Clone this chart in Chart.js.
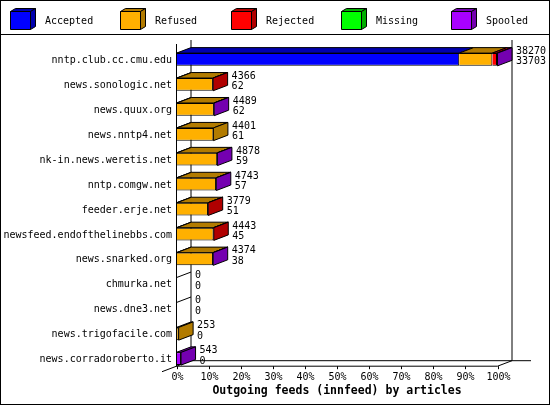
<!DOCTYPE html>
<html>
<head>
<meta charset="utf-8">
<title>Outgoing feeds (innfeed) by articles</title>
<script src="https://cdn.jsdelivr.net/npm/chart.js@4.4.1/dist/chart.umd.min.js"></script>
<style>
    html, body { margin: 0; padding: 0; background: #fff; }
    canvas { display: block; }
</style>
</head>
<body>
<canvas id="graficoFeeds" width="550" height="405"></canvas>
<script>
// datos
const hosts = [
    'nntp.club.cc.cmu.edu', 'news.sonologic.net', 'news.quux.org', 'news.nntp4.net',
    'nk-in.news.weretis.net', 'nntp.comgw.net', 'feeder.erje.net', 'newsfeed.endofthelinebbs.com',
    'news.snarked.org', 'chmurka.net', 'news.dne3.net', 'news.trigofacile.com', 'news.corradoroberto.it'
];
const offered  = [38270, 4366, 4489, 4401, 4878, 4743, 3779, 4443, 4374, 0, 0, 253, 543];
const accepted = [33703, 62, 62, 61, 59, 57, 51, 45, 38, 0, 0, 0, 0];
const refused  = [3950, 4280, 4400, 4340, 4790, 4660, 3700, 4370, 4310, 0, 0, 253, 0];
const rejected = [560, 24, 0, 0, 0, 0, 28, 28, 0, 0, 0, 0, 0];
const missing  = [0, 0, 0, 0, 0, 0, 0, 0, 0, 0, 0, 0, 0];
const spooled  = [57, 0, 27, 0, 29, 26, 0, 0, 26, 0, 0, 0, 543];
const percentTicks = [0, 10, 20, 30, 40, 50, 60, 70, 80, 90, 100];

const seriesNames = ['Accepted', 'Refused', 'Rejected', 'Missing', 'Spooled'];
const frontColors = ['#0000ff', '#ffb000', '#ff0000', '#00ff00', '#a800ff'];
const darkColors  = ['#0000ae', '#b27b00', '#b00000', '#00ae00', '#7400b0'];

const FONT = '10px "DejaVu Sans Mono", monospace';
const DX = 14.5, DY = 5.5;

const maxOffered = Math.max(...offered);
const pct = arr => arr.map(v => v / maxOffered * 100);

function cara(ctx, pts, fill) {
    ctx.beginPath();
    ctx.moveTo(pts[0][0], pts[0][1]);
    for (let k = 1; k < pts.length; k++) ctx.lineTo(pts[k][0], pts[k][1]);
    ctx.closePath();
    ctx.fillStyle = fill;
    ctx.fill();
    ctx.stroke();
}

function linea(ctx, x0, y0, x1, y1) {
    ctx.beginPath();
    ctx.moveTo(x0, y0);
    ctx.lineTo(x1, y1);
    ctx.stroke();
}

const marco3d = {
    id: 'marco3d',
    beforeDraw(chart) {
        const ctx = chart.ctx;
        const { left, right, bottom } = chart.chartArea;
        const floorY = bottom - 5;
        ctx.save();
        ctx.fillStyle = '#fff';
        ctx.fillRect(0, 0, chart.width, chart.height);
        ctx.strokeStyle = '#000';
        ctx.lineWidth = 1;
        ctx.strokeRect(0.5, 0.5, chart.width - 1, chart.height - 1);
        linea(ctx, 0, 34.5, chart.width, 34.5);

        // leyenda con cubos
        ctx.font = FONT;
        ctx.textBaseline = 'alphabetic';
        ctx.textAlign = 'left';
        seriesNames.forEach((name, i) => {
            const bx = 10.5 + Math.round(110.3 * i);
            const top = 11.5, h = 18, w = 20, dx = 5, dy = 3;
            cara(ctx, [[bx, top], [bx + dx, top - dy], [bx + w + dx, top - dy], [bx + w, top]], darkColors[i]);
            cara(ctx, [[bx + w, top], [bx + w + dx, top - dy], [bx + w + dx, top + h - dy], [bx + w, top + h]], darkColors[i]);
            cara(ctx, [[bx, top], [bx + w, top], [bx + w, top + h], [bx, top + h]], frontColors[i]);
            ctx.fillStyle = '#000';
            ctx.fillText(name, bx + 34.5, 24);
        });

        // paredes del fondo
        const backL = left + DX, backR = right + DX, backY = floorY - DY;
        linea(ctx, backL, 40, backL, backY);
        linea(ctx, backR, 40, backR, backY);
        linea(ctx, backL, backY, backR + 19, backY);
        linea(ctx, left - DX, floorY + DY, backL, backY);
        linea(ctx, right, floorY, backR, backY);
        linea(ctx, left, floorY, right, floorY);
        ctx.restore();
    },
    afterDatasetsDraw(chart) {
        const ctx = chart.ctx;
        const { left, bottom } = chart.chartArea;
        const floorY = bottom - 5;
        const xScale = chart.scales.x, yScale = chart.scales.y;
        ctx.save();
        ctx.strokeStyle = '#000';
        ctx.lineWidth = 1;

        hosts.forEach((host, i) => {
            let last = null;
            const cy = yScale.getPixelForValue(i);
            let yt = cy, yb = cy;
            chart.data.datasets.forEach((ds, d) => {
                const el = chart.getDatasetMeta(d).data[i];
                const p = el.getProps(['x', 'y', 'base', 'height'], true);
                yt = p.y - p.height / 2;
                yb = p.y + p.height / 2;
                if (ds.data[i] <= 0) return;
                const x0 = Math.min(p.base, p.x), x1 = Math.max(p.base, p.x);
                cara(ctx, [[x0, yt], [x0 + DX, yt - DY], [x1 + DX, yt - DY], [x1, yt]], darkColors[d]);
                last = { x1, d };
            });
            let endX = left;
            if (last) {
                endX = last.x1;
                cara(ctx, [[endX, yt], [endX + DX, yt - DY], [endX + DX, yb - DY], [endX, yb]], darkColors[last.d]);
            } else {
                linea(ctx, left, yt, left + DX, yt - DY);
            }
            ctx.fillStyle = '#000';
            ctx.font = FONT;
            ctx.textAlign = 'left';
            ctx.textBaseline = 'alphabetic';
            ctx.fillText(String(offered[i]), endX + DX + 4, cy - 5.5);
            ctx.fillText(String(accepted[i]), endX + DX + 4, cy + 5);

            ctx.textAlign = 'right';
            ctx.fillText(host, 172, cy + 3.5);
        });

        // eje frontal y marcas
        linea(ctx, left, 44, left, floorY);
        ctx.textAlign = 'center';
        percentTicks.forEach(v => {
            const x = Math.round(xScale.getPixelForValue(v)) + 0.5;
            linea(ctx, x, floorY, x, floorY + 3);
            ctx.fillText(v + '%', x, floorY + 14);
        });
        ctx.restore();
    }
};

const values = [accepted, refused, rejected, missing, spooled];

new Chart(document.getElementById('graficoFeeds'), {
    type: 'bar',
    data: {
        labels: hosts,
        datasets: seriesNames.map((name, d) => ({
            label: name,
            data: pct(values[d]),
            backgroundColor: frontColors[d],
            borderColor: '#000',
            borderWidth: 1,
            barPercentage: 0.51,
            categoryPercentage: 1
        }))
    },
    options: {
        indexAxis: 'y',
        responsive: false,
        animation: false,
        layout: { padding: { left: 176.5, right: 52.5, top: 47, bottom: 7 } },
        scales: {
            x: { type: 'linear', min: 0, max: 100, stacked: true, display: false },
            y: { type: 'category', stacked: true, display: false }
        },
        plugins: {
            legend: { display: false },
            tooltip: { enabled: false },
            title: {
                display: true,
                position: 'bottom',
                text: 'Outgoing feeds (innfeed) by articles',
                color: '#000',
                font: { family: '"DejaVu Sans Mono", monospace', size: 11.5, weight: 'bold', lineHeight: 1.2 },
                padding: { top: 13, bottom: 0 }
            }
        }
    },
    plugins: [marco3d]
});
</script>
</body>
</html>
